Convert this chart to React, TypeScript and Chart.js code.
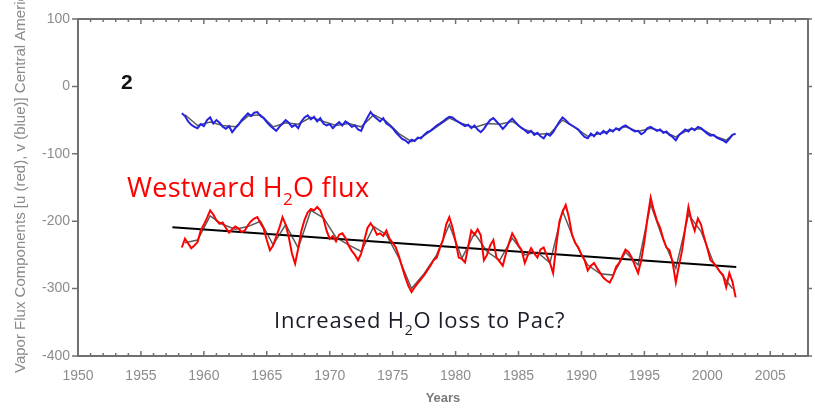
import React, { useEffect, useRef } from "react";
import { Chart, registerables } from "chart.js";
Chart.register(...registerables);

// Raw series: quarterly values starting 1958.25
const RAW_START = 1958.25;
const RAW_STEP = 0.25;

const blueRaw = [
  -40, -44, -52, -57,
  -60, -62, -56, -59,
  -50, -46, -55, -50,
  -54, -60, -63, -59,
  -68, -62, -57, -50,
  -45, -40, -44, -39,
  -38, -44, -47, -53,
  -58, -62, -66, -60,
  -55, -50, -54, -60,
  -57, -62, -52, -46,
  -43, -49, -45, -52,
  -47, -55, -58, -56,
  -62, -57, -53, -58,
  -52, -55, -60, -58,
  -64, -66, -55, -46,
  -38, -44, -48, -52,
  -47, -55, -58, -62,
  -68, -73, -78, -80,
  -84, -79, -81, -76,
  -77, -72, -68, -66,
  -62, -58, -55, -52,
  -48, -45, -46, -50,
  -53, -56, -59, -57,
  -62, -58, -64, -68,
  -63, -56, -50, -47,
  -52, -57, -63, -58,
  -52, -48, -53, -58,
  -62, -65, -69, -66,
  -72, -69, -74, -77,
  -70, -73, -68, -60,
  -52, -46, -50, -55,
  -58, -61, -64, -70,
  -75, -77, -70, -74,
  -68, -71, -66, -70,
  -64, -67, -62, -65,
  -60, -58, -61, -64,
  -67, -66, -71, -68,
  -62, -60, -63, -66,
  -64, -69, -67, -72,
  -75, -80, -72, -68,
  -64, -67, -62, -65,
  -60, -62, -66, -70,
  -73, -72, -76, -78,
  -80, -83, -78, -72,
  -70,
];

const redRaw = [
  -239, -226, -233, -240,
  -236, -231, -214, -205,
  -195, -184, -190, -199,
  -204, -202, -210, -217,
  -212, -208, -211, -216,
  -214, -206, -200, -196,
  -194, -203, -211, -228,
  -243, -236, -223, -210,
  -194, -205, -224, -248,
  -263, -240, -214, -198,
  -187, -182, -184, -179,
  -184, -196, -214, -226,
  -222, -230, -220, -218,
  -225, -236, -244, -250,
  -258, -248, -228, -210,
  -203, -210, -220, -218,
  -222, -214, -226, -232,
  -239, -252, -268, -283,
  -296, -305, -298, -292,
  -286, -280, -273, -266,
  -258, -254, -240, -228,
  -205, -194, -209, -230,
  -254, -256, -261, -238,
  -214, -220, -212, -221,
  -258, -250, -236, -228,
  -254, -260, -266, -248,
  -232, -218, -226, -236,
  -243, -262, -250, -240,
  -248, -254, -242, -239,
  -251, -262, -277, -236,
  -200, -186, -176, -194,
  -220, -232, -239, -250,
  -258, -273, -266, -262,
  -270, -277, -284, -288,
  -291, -282, -268, -262,
  -252, -242, -246, -254,
  -266, -277, -258, -230,
  -195, -165, -184, -199,
  -210, -226, -239, -243,
  -262, -291, -266, -243,
  -210, -179, -200, -214,
  -196, -205, -224, -240,
  -258, -262, -268, -275,
  -280, -298, -277, -290,
  -313,
];

// Smoothed (running-mean) series
const smoothYears = [
  1958.5, 1959.5, 1960.5, 1961.5, 1962.5, 1963.5, 1964.5, 1965.5, 1966.5, 1967.5,
  1968.5, 1969.5, 1970.5, 1971.5, 1972.5, 1973.5, 1974.5, 1975.5, 1976.5, 1977.5,
  1978.5, 1979.5, 1980.5, 1981.5, 1982.5, 1983.5, 1984.5, 1985.5, 1986.5, 1987.5,
  1988.5, 1989.5, 1990.5, 1991.5, 1992.5, 1993.5, 1994.5, 1995.5, 1996.5, 1997.5,
  1998.5, 1999.5, 2000.5, 2001.5, 2002.0,
];
const blueSmooth = [
  -42, -58, -53, -58, -60, -44, -42, -60, -54, -56,
  -46, -52, -58, -55, -60, -42, -52, -70, -82, -73,
  -60, -47, -55, -61, -55, -56, -52, -64, -71, -70,
  -50, -61, -74, -70, -65, -60, -67, -62, -67, -75,
  -64, -63, -73, -80, -72,
];
const redSmooth = [
  -232, -228, -192, -205, -212, -208, -200, -235, -205, -240,
  -184, -195, -224, -235, -245, -208, -220, -255, -300, -278,
  -250, -205, -255, -218, -245, -258, -225, -250, -246, -262,
  -185, -232, -265, -278, -280, -246, -265, -175, -228, -270,
  -190, -215, -262, -288, -300,
];

// Linear trend of red series
const trendYears = [1957.5, 2002.3];
const trendValues = [-209, -268];

const xTicksMin = 1950;
const xTicksMax = 2008;
const yMin = -400;
const yMax = 100;

const yTitle = "Vapor Flux Components [u (red), v (blue)] Central America";
const xTitle = "Years";

const W = 815;
const H = 409;

const decorPlugin = {
  id: "decor",
  afterDraw(chart: any) {
    const ctx = chart.ctx;
    const { left, right, top, bottom } = chart.chartArea;
    const xs = chart.scales.x;
    const ys = chart.scales.y;
    ctx.save();
    // frame
    ctx.strokeStyle = "#707070";
    ctx.lineWidth = 2;
    ctx.strokeRect(left, top, right - left, bottom - top);
    // ticks
    ctx.lineWidth = 1.5;
    ctx.beginPath();
    for (let yr = xTicksMin; yr <= xTicksMax; yr++) {
      const px = xs.getPixelForValue(yr);
      const len = yr % 5 === 0 ? 5 : 3;
      ctx.moveTo(px, top);
      ctx.lineTo(px, top + len);
      ctx.moveTo(px, bottom);
      ctx.lineTo(px, bottom - len);
    }
    for (let v = yMin; v <= yMax; v += 100) {
      const py = ys.getPixelForValue(v);
      ctx.moveTo(left - 6, py);
      ctx.lineTo(left, py);
      ctx.moveTo(right, py);
      ctx.lineTo(right + 4, py);
    }
    ctx.stroke();

    // y title
    ctx.save();
    ctx.translate(25, 373);
    ctx.rotate(-Math.PI / 2);
    ctx.font = '15px "Liberation Sans", Arial, sans-serif';
    ctx.fillStyle = "#8a8a8a";
    ctx.textAlign = "left";
    ctx.textBaseline = "alphabetic";
    ctx.fillText(yTitle, 0, 0);
    ctx.restore();

    // x title
    ctx.font = 'bold 13px "Liberation Sans", Arial, sans-serif';
    ctx.fillStyle = "#7a7a7a";
    ctx.textAlign = "center";
    ctx.textBaseline = "middle";
    ctx.fillText(xTitle, (left + right) / 2, 398);

    // panel number
    ctx.font = 'bold 21px "Liberation Sans", Arial, sans-serif';
    ctx.fillStyle = "#111";
    ctx.textAlign = "left";
    ctx.textBaseline = "alphabetic";
    ctx.fillText("2", 121, 89);

    // annotation with subscript
    const drawSub = (
      x: number, y: number, size: number, subSize: number, spacing: number,
      color: string, a: string, sub: string, b: string
    ) => {
      ctx.save();
      ctx.fillStyle = color;
      ctx.textAlign = "left";
      ctx.textBaseline = "alphabetic";
      (ctx as any).letterSpacing = `${spacing}px`;
      ctx.font = `${size}px "Open Sans", sans-serif`;
      ctx.fillText(a, x, y);
      let cx = x + ctx.measureText(a).width;
      ctx.font = `${subSize}px "Open Sans", sans-serif`;
      ctx.fillText(sub, cx, y + size * 0.3);
      cx += ctx.measureText(sub).width;
      ctx.font = `${size}px "Open Sans", sans-serif`;
      ctx.fillText(b, cx, y);
      ctx.restore();
    };
    drawSub(127, 197, 27, 17, 0.3, "#ff0000", "Westward H", "2", "O flux");
    drawSub(274, 328, 22, 14, 0.8, "#1c1c28", "Increased H", "2", "O loss to Pac?");
    ctx.restore();
  },
};

export default function App() {
  const ref = useRef<HTMLCanvasElement | null>(null);
  useEffect(() => {
    document.body.style.margin = "0";
    const canvas = ref.current;
    if (!canvas) return;
    const toPts = (xs: number[], ys: number[]) => ys.map((v, i) => ({ x: xs[i], y: v }));
    const rawYears = blueRaw.map((_, i) => RAW_START + i * RAW_STEP);
    const chart = new Chart(canvas, {
      type: "line",
      data: {
        datasets: [
          {
            data: toPts(rawYears, blueRaw),
            borderColor: "rgb(35,35,225)",
            borderWidth: 2,
            pointRadius: 0,
            tension: 0,
          },
          {
            data: toPts(rawYears, redRaw),
            borderColor: "rgb(255,0,0)",
            borderWidth: 2,
            pointRadius: 0,
            tension: 0,
          },
          {
            data: toPts(smoothYears, blueSmooth),
            borderColor: "rgba(50,50,50,0.8)",
            borderWidth: 1.5,
            pointRadius: 0,
            tension: 0,
          },
          {
            data: toPts(smoothYears, redSmooth),
            borderColor: "rgba(50,50,50,0.8)",
            borderWidth: 1.5,
            pointRadius: 0,
            tension: 0,
          },
          {
            data: toPts(trendYears, trendValues),
            borderColor: "#000",
            borderWidth: 2,
            pointRadius: 0,
            tension: 0,
          },
        ],
      },
      options: {
        responsive: false,
        animation: false,
        layout: { padding: { top: 19, right: 7, left: 0, bottom: 0 } },
        plugins: { legend: { display: false }, tooltip: { enabled: false } },
        scales: {
          x: {
            type: "linear",
            min: xTicksMin,
            max: xTicksMax,
            grid: { display: false, drawTicks: false },
            border: { display: false },
            ticks: {
              stepSize: 5,
              includeBounds: false,
              padding: 12,
              color: "#8c8c8c",
              font: { family: '"Liberation Sans", Arial, sans-serif', size: 14 },
              maxRotation: 0,
              autoSkip: false,
              callback: (v: any) => String(v),
            },
            afterFit: (s: any) => {
              s.height = 53;
            },
          },
          y: {
            type: "linear",
            min: yMin,
            max: yMax,
            grid: { display: false, drawTicks: false },
            border: { display: false },
            ticks: {
              stepSize: 100,
              padding: 8,
              color: "#8c8c8c",
              font: { family: '"Liberation Sans", Arial, sans-serif', size: 14 },
              callback: (v: any) => String(v),
            },
            afterFit: (s: any) => {
              s.width = 78;
            },
          },
        },
      },
      plugins: [decorPlugin],
    });
    return () => chart.destroy();
  }, []);
  return (
    <div style={{ width: W, height: H }}>
      <canvas ref={ref} width={W} height={H} style={{ display: "block" }} />
    </div>
  );
}
